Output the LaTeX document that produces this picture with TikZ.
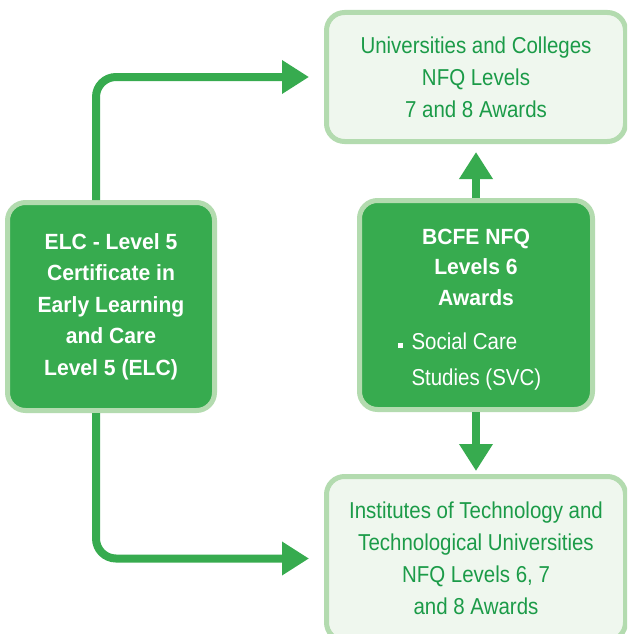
\documentclass[tikz,border=0pt]{standalone}
\usepackage{fontspec}
\setmainfont{Liberation Sans}[FakeStretch=0.89,BoldFeatures={FakeStretch=0.96}]
\usetikzlibrary{arrows.meta,positioning}
\definecolor{leafgreen}{HTML}{37AB4F}
\definecolor{palegreen}{HTML}{B3DBAF}
\definecolor{mintwash}{HTML}{EFF7EE}
\definecolor{textgreen}{HTML}{1B9B48}

\begin{document}
\begin{tikzpicture}[x=1pt, y=-1pt, >={Triangle[length=27pt,width=32pt]},
  darkbox/.style={rectangle, rounded corners=18pt, draw=palegreen, line width=5pt, fill=leafgreen, text=white, align=center, inner sep=0pt},
  lightbox/.style={rectangle, rounded corners=18pt, draw=palegreen, line width=5pt, fill=mintwash, text=textgreen, align=center, inner sep=0pt, minimum width=299pt, font=\fontsize{23}{32}\selectfont},
  flow/.style={->, line width=8pt, draw=leafgreen, rounded corners=20pt}]
  \clip (0,0) rectangle (627,634);
  % left column
  \node[darkbox, minimum width=207pt, minimum height=208pt, font=\fontsize{22}{31.5}\selectfont\bfseries] (elc) at (111,306.5) {ELC - Level 5\\Certificate in\\Early Learning\\and Care\\Level 5 (ELC)};
  \coordinate (lane) at (96,0);
  % right column
  \node[lightbox, minimum height=129pt] (uni) at (476,77) {Universities and Colleges\\NFQ Levels\\7 and 8 Awards};
  \node[darkbox, minimum width=233pt, minimum height=209pt, font=\fontsize{22}{30.5}\selectfont\bfseries] (bcfe) at (476,305) {\rule{0pt}{24pt}BCFE NFQ\\Levels 6\\Awards\\[14pt]\fontsize{23}{30.5}\selectfont\mdseries\hspace{4pt}\makebox[133pt][l]{\llap{\rule[2pt]{4.5pt}{4.5pt}\hspace{9pt}}Social Care}\\[5pt]\fontsize{23}{30.5}\selectfont\mdseries\hspace{4pt}\makebox[133pt][l]{Studies (SVC)}};
  \node[lightbox, minimum height=164pt] (itu) at (476,558.5) {Institutes of Technology and\\Technological Universities\\NFQ Levels 6, 7\\and 8 Awards};
  % connectors
  \draw[flow, shorten >=15pt] (elc.north -| lane) |- (uni.west);
  \draw[flow, shorten >=15pt] (elc.south -| lane) |- (itu.west);
  \draw[flow, shorten >=8pt] (bcfe.north) -- (uni.south);
  \draw[flow, shorten >=3pt] (bcfe.south) -- (itu.north);
\end{tikzpicture}
\end{document}
